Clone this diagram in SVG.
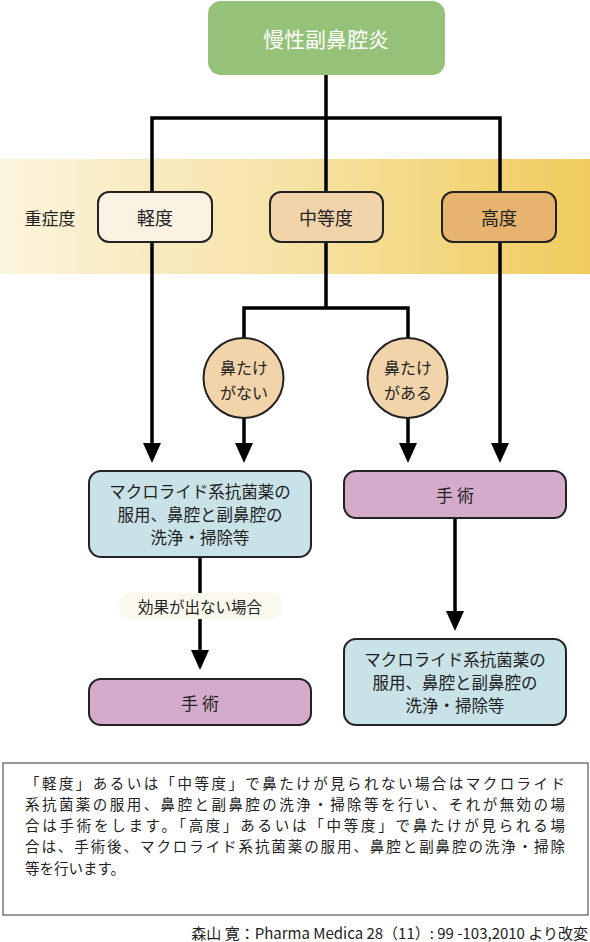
<svg xmlns="http://www.w3.org/2000/svg" width="590" height="942" viewBox="0 0 590 942">
<defs>
<linearGradient id="band" x1="0" y1="0" x2="1" y2="0">
<stop offset="0" stop-color="#fcf4dd"/>
<stop offset="0.5" stop-color="#f6e2a4"/>
<stop offset="1" stop-color="#f0cc5c"/>
</linearGradient>
<marker id="arr" viewBox="0 0 20 18" refX="6" refY="9" markerWidth="20" markerHeight="18" markerUnits="userSpaceOnUse" orient="auto">
<path d="M0,0 L20,9 L0,18 Z" fill="#000"/>
</marker>
<style>
text{font-family:"Noto Sans CJK JP","Noto Sans",sans-serif;fill:#222;text-anchor:middle;dominant-baseline:central}
.box{stroke:#222;stroke-width:2}
.ln{fill:none;stroke:#000;stroke-width:3.5}
.lvl{font-size:18px}
.circ{font-size:16px}
.body{font-size:16.5px}
.op{font-size:17px}
.note{font-size:14.5px;text-anchor:start}
</style>
</defs>
<rect x="0" y="159" width="590" height="115" fill="url(#band)"/>
<text x="50" y="217" style="font-size:17px">重症度</text>
<g id="connectors">
<path class="ln" d="M326,75 V192 M152,192 V118 H500 V192"/>
<path class="ln" d="M152,242 V449" marker-end="url(#arr)"/>
<path class="ln" d="M500,242 V449" marker-end="url(#arr)"/>
<path class="ln" d="M326,242 V308 H244 V338 M326,308 H408 V338"/>
<path class="ln" d="M244,418 V449" marker-end="url(#arr)"/>
<path class="ln" d="M408,418 V449" marker-end="url(#arr)"/>
<path class="ln" d="M200,557 V656" marker-end="url(#arr)"/>
<path class="ln" d="M455,518 V617" marker-end="url(#arr)"/>
</g>
<g id="root">
<rect x="208" y="1" width="237" height="74" rx="13" fill="#95c278"/>
<text x="326" y="38" style="font-size:21px;fill:#fff">慢性副鼻腔炎</text>
</g>
<g id="mild">
<rect class="box" x="98" y="192" width="114" height="50" rx="11" fill="#fcf2e4"/>
<text class="lvl" x="155" y="217">軽度</text>
</g>
<g id="moderate">
<rect class="box" x="270" y="192" width="113" height="50" rx="11" fill="#f2d4aa"/>
<text class="lvl" x="326" y="217">中等度</text>
</g>
<g id="severe">
<rect class="box" x="442" y="192" width="114" height="50" rx="11" fill="#e6b46f"/>
<text class="lvl" x="499" y="217">高度</text>
</g>
<g id="no-polyp">
<circle class="box" cx="243.5" cy="378" r="40" fill="#f2d4aa"/>
<text class="circ" x="244" y="367">鼻たけ</text>
<text class="circ" x="244" y="392">がない</text>
</g>
<g id="polyp">
<circle class="box" cx="407.5" cy="378" r="40" fill="#f2d4aa"/>
<text class="circ" x="408" y="367">鼻たけ</text>
<text class="circ" x="408" y="392">がある</text>
</g>
<g id="treat-left">
<rect class="box" x="89" y="471" width="222" height="86" rx="12" fill="#c8e2e8"/>
<text class="body" x="200" y="491">マクロライド系抗菌薬の</text>
<text class="body" x="200" y="514">服用、鼻腔と副鼻腔の</text>
<text class="body" x="200" y="537">洗浄・掃除等</text>
</g>
<g id="surgery-right">
<rect class="box" x="344" y="471" width="222" height="47" rx="12" fill="#d5abcb"/>
<text class="op" x="455" y="494">手 術</text>
</g>
<g id="label-noeffect">
<rect x="119" y="593" width="163" height="26" rx="10" fill="#fbf8ee"/>
<text x="200" y="606" style="font-size:15.5px">効果が出ない場合</text>
</g>
<g id="surgery-left">
<rect class="box" x="89" y="679" width="222" height="46" rx="12" fill="#d5abcb"/>
<text class="op" x="200" y="702">手 術</text>
</g>
<g id="treat-right">
<rect class="box" x="344" y="639" width="222" height="86" rx="12" fill="#c8e2e8"/>
<text class="body" x="455" y="659">マクロライド系抗菌薬の</text>
<text class="body" x="455" y="682">服用、鼻腔と副鼻腔の</text>
<text class="body" x="455" y="705">洗浄・掃除等</text>
</g>
<g id="note">
<rect x="3" y="763" width="585" height="152" fill="#fff" stroke="#555" stroke-width="1.2"/>
<text class="note" x="25" y="782" textLength="540" lengthAdjust="spacing">「軽度」あるいは「中等度」で鼻たけが見られない場合はマクロライド</text>
<text class="note" x="25" y="803" textLength="540" lengthAdjust="spacing">系抗菌薬の服用、鼻腔と副鼻腔の洗浄・掃除等を行い、それが無効の場</text>
<text class="note" x="25" y="824" textLength="540" lengthAdjust="spacing">合は手術をします。「高度」あるいは「中等度」で鼻たけが見られる場</text>
<text class="note" x="25" y="845" textLength="540" lengthAdjust="spacing">合は、手術後、マクロライド系抗菌薬の服用、鼻腔と副鼻腔の洗浄・掃除</text>
<text class="note" x="25" y="867">等を行います。</text>
</g>
<text x="588" y="932" style="font-size:15px;text-anchor:end">森山 寛：Pharma Medica 28（11）: 99 -103,2010  より改変</text>
</svg>
